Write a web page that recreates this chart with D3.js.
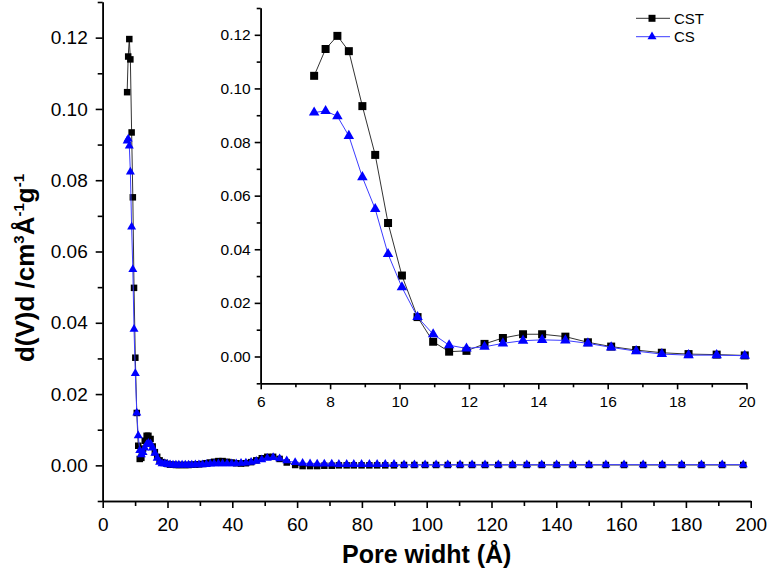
<!DOCTYPE html>
<html>
<head>
<meta charset="utf-8">
<script src="https://cdn.jsdelivr.net/npm/d3@7"></script>
<style>
  body { margin: 0; background: #fff; }
  svg { font-family: Arial, "Liberation Sans", sans-serif; }
</style>
</head>
<body>
<div id="chart"></div>
<script>
// Pore width (Å), shared by both samples
var poreWidth = [7.54, 7.87, 8.21, 8.54, 8.93, 9.30, 9.67, 10.07, 10.52, 10.97,
  11.43, 11.93, 12.45, 12.98, 13.56, 14.11, 14.78, 15.43, 16.10, 16.82,
  17.56, 18.33, 19.14, 19.95, 20.8, 21.7, 22.6, 23.5, 24.5, 25.5,
  26.5, 27.5, 28.6, 29.7, 30.8, 32.0, 33.2, 34.4, 35.7, 37.0,
  38.4, 39.8, 41.2, 42.7, 44.2, 45.8, 47.4, 49.1, 50.8, 52.6,
  54.6, 56.8, 59.4, 61.7, 64.0, 66.2, 68.4, 70.7, 72.9, 75.3,
  77.5, 79.9, 82.3, 84.7, 87.2, 89.9, 93.0, 96.2, 99.5, 102.9,
  106.5, 110.3, 114.0, 118.0, 122.1, 126.5, 130.9, 135.5, 140.1, 145.1,
  150.1, 155.3, 160.9, 166.8, 172.7, 178.7, 184.8, 191.2, 197.7];

var cstValues = [0.1047, 0.1147, 0.1196, 0.1139, 0.0934, 0.0752, 0.0498, 0.0302, 0.0147, 0.0055,
  0.0018, 0.0021, 0.0047, 0.0069, 0.0083, 0.0083, 0.0074, 0.0053, 0.0037, 0.0024,
  0.0014, 0.0009, 0.0007, 0.0004, 0.0002, 0.0002, 0.0001, 0.0001, 0.0001, 0.0001,
  0.0001, 0.0002, 0.0002, 0.0003, 0.0004, 0.0006, 0.0008, 0.0010, 0.0012, 0.0012,
  0.0010, 0.0008, 0.0006, 0.0005, 0.0006, 0.0009, 0.0014, 0.0020, 0.0024, 0.0024,
  0.0018, 0.0008, 0.0001, -0.0002, -0.0002, -0.0002, -0.0001, -0.0001, 0.0000, 0.0000,
  0.0000, 0.0000, 0.0000, 0.0000, 0.0000, 0.0000, 0.0001, 0.0001, 0.0001, 0.0001,
  0.0001, 0.0001, 0.0001, 0.0001, 0.0001, 0.0001, 0.0001, 0.0001, 0.0001, 0.0001,
  0.0001, 0.0001, 0.0001, 0.0001, 0.0001, 0.0001, 0.0001, 0.0001, 0.0001];

var csValues = [0.0910, 0.0916, 0.0896, 0.0823, 0.0669, 0.0550, 0.0382, 0.0258, 0.0147, 0.0083,
  0.0042, 0.0030, 0.0036, 0.0049, 0.0059, 0.0062, 0.0060, 0.0049, 0.0034, 0.0020,
  0.0009, 0.0005, 0.0005, 0.0003, 0.0002, 0.0001, 0.0001, 0.0001, 0.0001, 0.0001,
  0.0001, 0.0001, 0.0002, 0.0002, 0.0002, 0.0003, 0.0004, 0.0005, 0.0005, 0.0005,
  0.0005, 0.0005, 0.0005, 0.0006, 0.0007, 0.0009, 0.0012, 0.0016, 0.0020, 0.0022,
  0.0019, 0.0013, 0.0008, 0.0006, 0.0005, 0.0004, 0.0004, 0.0004, 0.0003, 0.0003,
  0.0003, 0.0003, 0.0003, 0.0003, 0.0003, 0.0003, 0.0002, 0.0002, 0.0002, 0.0002,
  0.0002, 0.0002, 0.0002, 0.0002, 0.0002, 0.0002, 0.0002, 0.0002, 0.0002, 0.0002,
  0.0002, 0.0002, 0.0002, 0.0002, 0.0002, 0.0002, 0.0002, 0.0002, 0.0002];

var seriesNames = ["CST", "CS"];

var xTicksMain = [0, 20, 40, 60, 80, 100, 120, 140, 160, 180, 200];
var yTicks = [0.00, 0.02, 0.04, 0.06, 0.08, 0.10, 0.12];
var xTicksInset = [6, 8, 10, 12, 14, 16, 18, 20];

var data = poreWidth.map(function(w, i) {
  return { w: w, cst: cstValues[i], cs: csValues[i] };
});
var insetData = data.filter(function(d) { return d.w <= 20; });

var svg = d3.select("#chart").append("svg")
  .attr("width", 768)
  .attr("height", 578);

// main axes
var x = d3.scaleLinear().domain([0, 200]).range([102.7, 750.7]);
var y = d3.scaleLinear().domain([-0.01, 0.13]).range([501, 2]);

// inset axes
var xi = d3.scaleLinear().domain([6, 20]).range([260.7, 746.5]);
var yi = d3.scaleLinear().domain([-0.01, 0.13]).range([383.3, 8]);

function styleAxis(g, fontSize) {
  g.select(".domain").attr("stroke", "#000").attr("stroke-width", 1.6);
  g.selectAll(".tick line").attr("stroke", "#000").attr("stroke-width", 1.6);
  g.selectAll(".tick text").attr("fill", "#000").style("font-size", fontSize + "px");
}

function drawAxes(xs, ys, xMajor, xMinor, yMinor, opt) {
  var yAxisY = ys.range()[0];
  var xAxisX = xs.range()[0];

  // minor ticks first
  svg.append("g")
    .attr("transform", "translate(0," + yAxisY + ")")
    .call(d3.axisBottom(xs).tickValues(xMinor).tickSize(opt.minor).tickSizeOuter(0).tickFormat(""))
    .call(styleAxis, opt.font);
  svg.append("g")
    .attr("transform", "translate(" + xAxisX + ",0)")
    .call(d3.axisLeft(ys).tickValues(yMinor).tickSize(opt.minor).tickSizeOuter(0).tickFormat(""))
    .call(styleAxis, opt.font);

  svg.append("g")
    .attr("transform", "translate(0," + yAxisY + ")")
    .call(d3.axisBottom(xs).tickValues(xMajor).tickSize(opt.major).tickSizeOuter(0)
      .tickPadding(opt.padX).tickFormat(d3.format("d")))
    .call(styleAxis, opt.font);
  svg.append("g")
    .attr("transform", "translate(" + xAxisX + ",0)")
    .call(d3.axisLeft(ys).tickValues(yTicks).tickSize(opt.major).tickSizeOuter(0)
      .tickPadding(opt.padY).tickFormat(d3.format(".2f")))
    .call(styleAxis, opt.font);
}

drawAxes(x, y, xTicksMain, d3.range(10, 200, 20), d3.range(-0.01, 0.13, 0.02),
  { major: 7, minor: 5, font: 19, padX: 10, padY: 8 });
drawAxes(xi, yi, xTicksInset, d3.range(7, 20, 2), d3.range(-0.01, 0.13, 0.02),
  { major: 6, minor: 4, font: 15.5, padX: 7, padY: 4 });

var styles = {
  cst: { line: "#333", fill: "#000", symbol: d3.symbolSquare },
  cs:  { line: "#3c3cff", fill: "#0000ff", symbol: d3.symbolTriangle }
};

function symbolSize(key, side) {
  // square: area = side^2, triangle: area = side^2 * sqrt(3) / 4
  return key === "cst" ? side * side : side * side * Math.sqrt(3) / 4;
}

function drawSeries(rows, xs, ys, key, sq, tri) {
  var st = styles[key];
  var line = d3.line()
    .x(function(d) { return xs(d.w); })
    .y(function(d) { return ys(d[key]); });

  svg.append("path")
    .datum(rows)
    .attr("fill", "none")
    .attr("stroke", st.line)
    .attr("stroke-width", 1)
    .attr("d", line);

  var side = key === "cst" ? sq : tri;
  svg.append("g").selectAll("path")
    .data(rows)
    .enter().append("path")
    .attr("transform", function(d) { return "translate(" + xs(d.w) + "," + ys(d[key]) + ")"; })
    .attr("d", d3.symbol().type(st.symbol).size(symbolSize(key, side)))
    .attr("fill", st.fill);
}

drawSeries(data, x, y, "cst", 6.5, 9);
drawSeries(data, x, y, "cs", 6.5, 9);
drawSeries(insetData, xi, yi, "cst", 8, 10.5);
drawSeries(insetData, xi, yi, "cs", 8, 10.5);

// legend
["cst", "cs"].forEach(function(key, i) {
  var st = styles[key];
  var ly = 18.3 + i * 18.4;
  svg.append("line")
    .attr("x1", 636).attr("x2", 670)
    .attr("y1", ly).attr("y2", ly)
    .attr("stroke", st.line).attr("stroke-width", 1);
  svg.append("path")
    .attr("transform", "translate(652," + ly + ")")
    .attr("d", d3.symbol().type(st.symbol).size(symbolSize(key, key === "cst" ? 7 : 9)))
    .attr("fill", st.fill);
  svg.append("text")
    .attr("x", 674)
    .attr("y", ly)
    .attr("dy", "0.36em")
    .style("font-size", "15px")
    .text(seriesNames[i]);
});

// X axis label
svg.append("text")
  .attr("x", 426.7)
  .attr("y", 563)
  .attr("text-anchor", "middle")
  .style("font-size", "25px")
  .style("font-weight", "bold")
  .text("Pore widht (Å)");

// Y axis label with superscripts
var yLabel = svg.append("text")
  .attr("transform", "translate(34,268) rotate(-90)")
  .attr("text-anchor", "middle")
  .style("font-size", "26px")
  .style("font-weight", "bold");
yLabel.append("tspan").text("d(V)d /cm");
yLabel.append("tspan").attr("dy", -10).style("font-size", "15px").text("3");
yLabel.append("tspan").attr("dy", 10).text("Å");
yLabel.append("tspan").attr("dy", -10).style("font-size", "15px").text("-1");
yLabel.append("tspan").attr("dy", 10).text("g");
yLabel.append("tspan").attr("dy", -10).style("font-size", "15px").text("-1");
</script>
</body>
</html>
